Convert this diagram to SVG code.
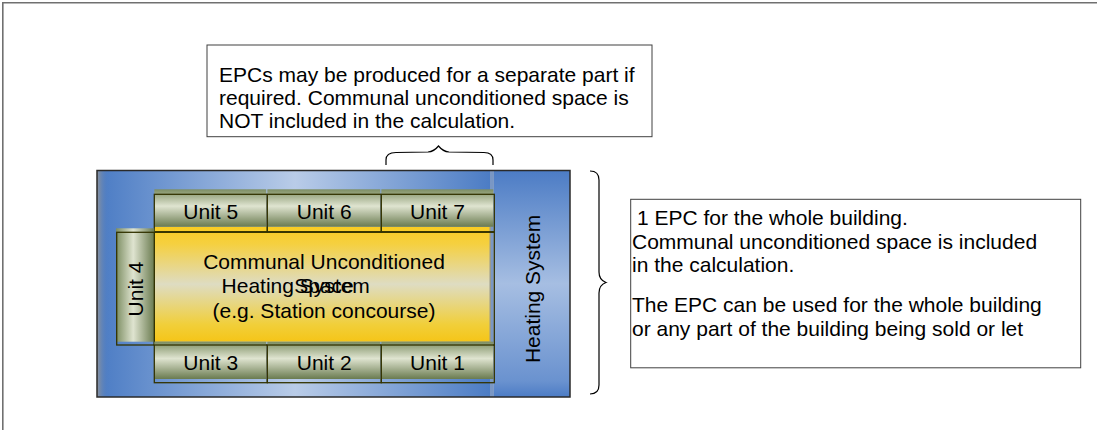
<svg xmlns="http://www.w3.org/2000/svg" width="1097" height="430" viewBox="0 0 1097 430">
  <style>
    .t { font-family: "Liberation Sans", Arial, sans-serif; font-size: 21px; fill: #000; }
    .box { fill: #fff; stroke: #404040; stroke-width: 1; }
    .ol { fill: none; stroke: #333300; stroke-width: 1.3; }
    .brace { fill: none; stroke: #000; stroke-width: 1.2; }
    .gh { fill: url(#gGreenH); }
  </style>
  <defs>
    <linearGradient id="gBuild" x1="0" y1="0" x2="1" y2="0">
      <stop offset="0" stop-color="#4a7bc4"/>
      <stop offset="0.5" stop-color="#b9cce8"/>
      <stop offset="1" stop-color="#4a7bc4"/>
    </linearGradient>
    <linearGradient id="gLeft" x1="0" y1="0" x2="1" y2="0">
      <stop offset="0" stop-color="#8e949c" stop-opacity="1"/>
      <stop offset="1" stop-color="#4a7bc4" stop-opacity="0"/>
    </linearGradient>
    <linearGradient id="gHeat" x1="0" y1="0" x2="0" y2="1">
      <stop offset="0" stop-color="#4c7cc5"/>
      <stop offset="0.5" stop-color="#a6bee2"/>
      <stop offset="0.93" stop-color="#6a92cf"/>
      <stop offset="1" stop-color="#4c7cc5"/>
    </linearGradient>
    <linearGradient id="gGreenH" x1="0" y1="0" x2="0" y2="1">
      <stop offset="0" stop-color="#7c8d62"/>
      <stop offset="0.45" stop-color="#dfe4d0"/>
      <stop offset="1" stop-color="#6a7b50"/>
    </linearGradient>
    <linearGradient id="gGreenV" x1="0" y1="0" x2="1" y2="0">
      <stop offset="0" stop-color="#7c8d62"/>
      <stop offset="0.45" stop-color="#dfe4d0"/>
      <stop offset="1" stop-color="#6a7b50"/>
    </linearGradient>
    <linearGradient id="gYellow" x1="0" y1="0" x2="0" y2="1">
      <stop offset="0" stop-color="#f9cc22"/>
      <stop offset="0.15" stop-color="#f5d040"/>
      <stop offset="0.5" stop-color="#dedcc2"/>
      <stop offset="0.85" stop-color="#f1cf3a"/>
      <stop offset="1" stop-color="#f5c518"/>
    </linearGradient>
  </defs>

  <!-- outer frame -->
  <path d="M2.8,430 V2.8 H1097" fill="none" stroke="#707070" stroke-width="1.6"/>

  <!-- building -->
  <g id="building">
    <rect x="97" y="170.5" width="396" height="226.5" fill="url(#gBuild)"/>
    <rect x="97" y="170.5" width="12" height="226.5" fill="url(#gLeft)"/>
  </g>

  <g id="heating-system">
    <rect x="493" y="170.5" width="77" height="226.5" fill="url(#gHeat)"/>
    <rect x="490" y="170.5" width="4" height="226.5" fill="#9aaac4" opacity="0.6"/>
    <text class="t" text-anchor="middle" transform="translate(540,289) rotate(-90)">Heating System</text>
  </g>
  <rect x="97" y="170.5" width="473" height="226.5" fill="none" stroke="#2a2a2a" stroke-width="1.5"/>

  <g id="communal">
    <rect x="154" y="226.7" width="337" height="115" fill="url(#gYellow)"/>
    <rect x="489.5" y="226.7" width="1.5" height="115" fill="#9a9a8a"/>
    <rect x="154.3" y="232.3" width="340" height="112.7" class="ol"/>
    <text class="t" text-anchor="middle" x="324" y="269">Communal Unconditioned</text>
    <text class="t" text-anchor="middle" x="324" y="293">Space</text>
    <text class="t" x="221.6" y="293">Heating System</text>
    <text class="t" text-anchor="middle" x="324" y="318">(e.g. Station concourse)</text>
  </g>

  <g id="unit-5">
    <rect x="154.3" y="189.3" width="112" height="37.4" class="gh"/>
    <rect x="154.3" y="194.3" width="113" height="37.4" class="ol"/>
    <text class="t" text-anchor="middle" x="210.8" y="219.3">Unit 5</text>
  </g>
  <g id="unit-6">
    <rect x="267.3" y="189.3" width="113" height="37.4" class="gh"/>
    <rect x="267.3" y="194.3" width="114" height="37.4" class="ol"/>
    <text class="t" text-anchor="middle" x="324.2" y="219.3">Unit 6</text>
  </g>
  <g id="unit-7">
    <rect x="381.3" y="189.3" width="112" height="37.4" class="gh"/>
    <rect x="381.3" y="194.3" width="113" height="37.4" class="ol"/>
    <text class="t" text-anchor="middle" x="437.5" y="219.3">Unit 7</text>
  </g>

  <g id="unit-4">
    <rect x="116" y="228.3" width="38.3" height="113.4" fill="url(#gGreenV)"/>
    <rect x="116.7" y="232.3" width="37.6" height="112.7" class="ol"/>
    <text class="t" text-anchor="middle" transform="translate(143,289) rotate(-90)">Unit 4</text>
  </g>

  <g id="unit-3">
    <rect x="154.3" y="341.7" width="112" height="37.3" class="gh"/>
    <rect x="154.3" y="345" width="113" height="37.7" class="ol"/>
    <text class="t" text-anchor="middle" x="210.8" y="370">Unit 3</text>
  </g>
  <g id="unit-2">
    <rect x="267.3" y="341.7" width="113" height="37.3" class="gh"/>
    <rect x="267.3" y="345" width="114" height="37.7" class="ol"/>
    <text class="t" text-anchor="middle" x="324.2" y="370">Unit 2</text>
  </g>
  <g id="unit-1">
    <rect x="381.3" y="341.7" width="112" height="37.3" class="gh"/>
    <rect x="381.3" y="345" width="113" height="37.7" class="ol"/>
    <text class="t" text-anchor="middle" x="437.5" y="370">Unit 1</text>
  </g>

  <g id="note-top">
    <rect x="207" y="45" width="445" height="91.7" class="box"/>
    <text class="t" x="219" y="82">EPCs may be produced for a separate part if</text>
    <text class="t" x="219" y="105">required. Communal unconditioned space is</text>
    <text class="t" x="219" y="128">NOT included in the calculation.</text>
  </g>

  <g id="note-right">
    <rect x="630.7" y="199.3" width="450" height="168.5" class="box"/>
    <text class="t" x="637" y="225">1 EPC for the whole building.</text>
    <text class="t" x="632" y="248.5">Communal unconditioned space is included</text>
    <text class="t" x="632" y="272">in the calculation.</text>
    <text class="t" x="632" y="312">The EPC can be used for the whole building</text>
    <text class="t" x="632" y="335.5">or any part of the building being sold or let</text>
  </g>

  <g id="connectors">
    <path class="brace" d="M386,165 V160 Q386,152.5 396,152.5 L428,152 Q434,151.5 438.5,146 Q443,151.5 449,152 L484,152.5 Q493,152.5 493,160 V165"/>
    <path class="brace" d="M590,171 Q599,171 599,180 V272 Q599,280 606,282.5 Q599,285 599,293 V385 Q599,394 590,394"/>
  </g>
</svg>
